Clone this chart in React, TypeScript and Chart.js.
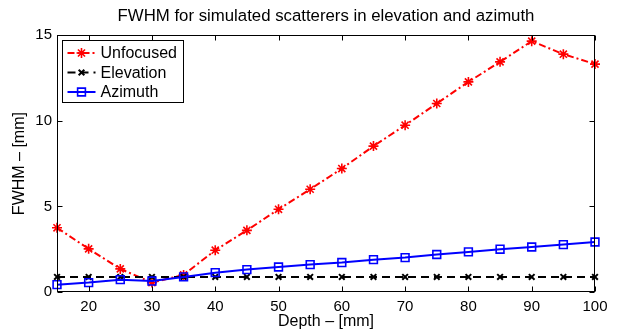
import React, { useEffect, useRef } from 'react';
import { Chart, registerables } from 'chart.js';
import { drawPoint } from 'chart.js/helpers';

Chart.register(...registerables);

const depths = [15, 20, 25, 30, 35, 40, 45, 50, 55, 60, 65, 70, 75, 80, 85, 90, 95, 100];
const unfocused = [3.75, 2.52, 1.35, 0.55, 1.0, 2.44, 3.6, 4.83, 6.0, 7.21, 8.52, 9.74, 11.01, 12.27, 13.44, 14.65, 13.89, 13.31];
const elevation = [0.88, 0.88, 0.88, 0.88, 0.88, 0.88, 0.88, 0.88, 0.88, 0.88, 0.88, 0.88, 0.88, 0.88, 0.88, 0.88, 0.88, 0.88];
const azimuth = [0.43, 0.55, 0.72, 0.64, 0.88, 1.13, 1.31, 1.46, 1.6, 1.72, 1.89, 2.01, 2.19, 2.34, 2.5, 2.63, 2.77, 2.92];
const xTicks = [20, 30, 40, 50, 60, 70, 80, 90, 100];
const yTicks = [0, 5, 10, 15];
const titleText = 'FWHM for simulated scatterers in elevation and azimuth';
const xLabel = 'Depth – [mm]';
const yLabel = 'FWHM – [mm]';
const seriesNames = ['Unfocused', 'Elevation', 'Azimuth'];

const FONT = '"Liberation Sans", Arial, Helvetica, sans-serif';

const seriesStyles = [
  { color: '#ff0000', dash: [7, 3, 2, 3], pointStyle: 'star', radius: 5, pointBorderWidth: 1.6 },
  { color: '#000000', dash: [8, 5], pointStyle: 'crossRot', radius: 4, pointBorderWidth: 2 },
  { color: '#0000ff', dash: [], pointStyle: 'rect', radius: 5.5, pointBorderWidth: 1.6 },
];

const framePlugin = {
  id: 'frame',
  afterDatasetsDraw(chart: any) {
    const { ctx, chartArea, scales } = chart;
    const { left, right, top, bottom } = chartArea;
    const xs = scales.x;
    const ys = scales.y;
    const L = Math.round(left) + 0.5;
    const R = Math.round(right) - 0.5;
    const T = Math.round(top) + 0.5;
    const B = Math.round(bottom) - 0.5;
    ctx.save();
    ctx.strokeStyle = '#000';
    ctx.lineWidth = 1;
    ctx.setLineDash([]);
    ctx.strokeRect(L, T, R - L, B - T);
    ctx.beginPath();
    const tl = 5;
    xTicks.forEach((v) => {
      const px = Math.round(xs.getPixelForValue(v)) + 0.5;
      ctx.moveTo(px, B);
      ctx.lineTo(px, B - tl);
      ctx.moveTo(px, T);
      ctx.lineTo(px, T + tl);
    });
    yTicks.forEach((v) => {
      const py = Math.round(ys.getPixelForValue(v)) + 0.5;
      ctx.moveTo(L, py);
      ctx.lineTo(L + tl, py);
      ctx.moveTo(R, py);
      ctx.lineTo(R - tl, py);
    });
    ctx.stroke();

    // legend
    const bx = L + 5;
    const by = T + 5;
    const bw = 121;
    const bh = 62;
    ctx.fillStyle = '#fff';
    ctx.fillRect(bx, by, bw, bh);
    ctx.strokeStyle = '#000';
    ctx.lineWidth = 1;
    ctx.strokeRect(bx, by, bw, bh);
    ctx.font = '16px ' + FONT;
    ctx.textBaseline = 'middle';
    ctx.textAlign = 'left';
    seriesNames.forEach((name, i) => {
      const st = seriesStyles[i];
      const yc = by + 12.5 + i * 19.5;
      ctx.strokeStyle = st.color;
      ctx.lineWidth = 2;
      ctx.setLineDash(st.dash);
      ctx.beginPath();
      ctx.moveTo(bx + 5, yc);
      ctx.lineTo(bx + 33, yc);
      ctx.stroke();
      ctx.setLineDash([]);
      ctx.lineWidth = st.pointBorderWidth;
      ctx.fillStyle = 'rgba(0,0,0,0)';
      drawPoint(ctx, { pointStyle: st.pointStyle, radius: st.radius, rotation: 0, borderWidth: st.pointBorderWidth }, bx + 19, yc);
      ctx.fillStyle = '#000';
      ctx.fillText(name, bx + 38, yc + 1);
    });
    ctx.restore();
  },
};

export default function App() {
  const ref = useRef<HTMLCanvasElement | null>(null);
  useEffect(() => {
    if (!ref.current) return;
    const seriesData = [unfocused, elevation, azimuth];
    const chart = new Chart(ref.current, {
      type: 'line',
      data: {
        datasets: seriesNames.map((name, i) => {
          const st = seriesStyles[i];
          return {
            label: name,
            data: depths.map((d, j) => ({ x: d, y: seriesData[i][j] })),
            borderColor: st.color,
            borderWidth: 2,
            borderDash: st.dash,
            backgroundColor: 'rgba(0,0,0,0)',
            pointStyle: st.pointStyle as any,
            pointRadius: st.radius,
            pointBorderColor: st.color,
            pointBackgroundColor: 'rgba(0,0,0,0)',
            pointBorderWidth: st.pointBorderWidth,
            tension: 0,
            fill: false,
            clip: false as any,
            order: 3 - i,
          };
        }),
      },
      options: {
        responsive: false,
        animation: false,
        devicePixelRatio: 1,
        layout: { padding: { left: 0, right: 29, top: 0, bottom: 0 } },
        plugins: {
          legend: { display: false },
          tooltip: { enabled: false },
          title: {
            display: true,
            fullSize: false,
            text: titleText,
            color: '#000',
            font: { family: FONT, size: 16.8, weight: 'normal', lineHeight: 1.2 },
            padding: { top: 6, bottom: 9 },
          },
        },
        scales: {
          x: {
            type: 'linear',
            min: 15,
            max: 100,
            afterBuildTicks: (scale: any) => {
              scale.ticks = xTicks.map((v) => ({ value: v }));
            },
            afterFit: (scale: any) => {
              scale.height = 38;
            },
            grid: { display: false, drawTicks: false },
            border: { display: false },
            ticks: {
              color: '#000',
              font: { family: FONT, size: 15 },
              padding: 6,
              maxRotation: 0,
              autoSkip: false,
            },
            title: {
              display: true,
              text: xLabel,
              color: '#000',
              font: { family: FONT, size: 16, lineHeight: 1 },
              padding: { top: 0, bottom: 0 },
            },
          },
          y: {
            type: 'linear',
            min: 0,
            max: 15,
            afterBuildTicks: (scale: any) => {
              scale.ticks = yTicks.map((v) => ({ value: v }));
            },
            afterFit: (scale: any) => {
              scale.width = 57;
            },
            grid: { display: false, drawTicks: false },
            border: { display: false },
            ticks: {
              color: '#000',
              font: { family: FONT, size: 15 },
              padding: 5,
              autoSkip: false,
            },
            title: {
              display: true,
              text: yLabel,
              color: '#000',
              font: { family: FONT, size: 16, lineHeight: 1 },
              padding: { top: 11.5, bottom: 0 },
            },
          },
        },
      },
      plugins: [framePlugin],
    });
    return () => chart.destroy();
  }, []);
  return (
    <div style={{ position: 'fixed', left: 0, top: 0, width: 624, height: 330, background: '#fff' }}>
      <canvas ref={ref} width={624} height={330} style={{ display: 'block' }} />
    </div>
  );
}
